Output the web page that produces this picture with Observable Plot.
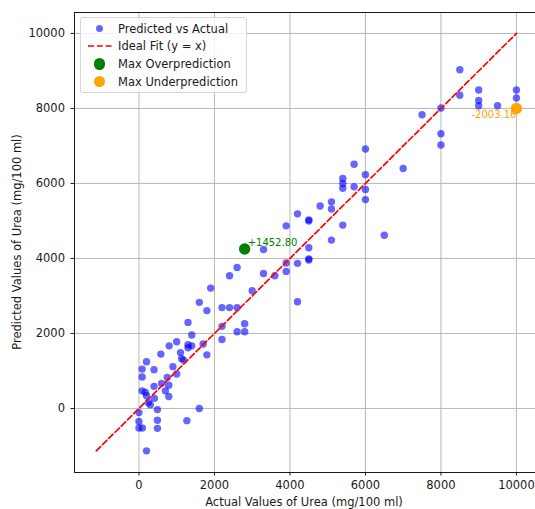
<!DOCTYPE html>
<html>
<head>
<meta charset="utf-8">
<script src="https://cdn.jsdelivr.net/npm/d3@7"></script>
<script src="https://cdn.jsdelivr.net/npm/@observablehq/plot@0.6"></script>
<style>
  html, body { margin: 0; padding: 0; background: #fff; overflow: hidden; }
  #wrap { position: relative; width: 535px; height: 509px; font-family: "DejaVu Sans", sans-serif; color: #1a1a1a; }
  #wrap svg text { font-family: "DejaVu Sans", sans-serif; }
  .legend { position: absolute; left: 80px; top: 17px; width: 167px; height: 76px;
    background: rgba(255,255,255,0.8); border: 1px solid #d6d6d6; border-radius: 3px; box-sizing: border-box;
    font-size: 11.5px; color: #1a1a1a; }
  .row { position: absolute; left: 0; height: 16px; display: flex; align-items: center; white-space: nowrap; }
  .mk { width: 37px; display: flex; justify-content: center; align-items: center; }
  .dot { border-radius: 50%; }
  .xlab { position: absolute; left: 74px; width: 460px; top: 495px; line-height: 15px; text-align: center; font-size: 11.5px; }
  .ylab { position: absolute; left: 17px; top: 242px; width: 300px; line-height: 15px; text-align: center; font-size: 11.5px;
    transform: translate(-50%, -50%) rotate(-90deg); }
</style>
</head>
<body>
<div id="wrap"></div>
<script>
// Actual urea values (mg/100 ml)
const actual = [
  8500, 8500, 9000, 9000, 9000, 9500, 10000, 10000, 8000, 8000, 8000, 7500, 7000,
  6000, 5700, 6000, 5400, 5400, 5400, 5700, 6000, 6000, 5100, 5100, 4800, 4500, 4500,
  5400, 6500, 5100, 4200, 3900, 3300, 4500, 4500, 4500, 3900, 4200, 3900, 2600, 2400,
  3300, 3600, 1900, 3000, 4200, 2200, 2400, 2600, 1600, 1800, 1300, 2200, 2800, 2600,
  2800, 2200, 1400,
  1000, 800, 1300, 1400, 1700, 1300, 1100, 580, 1800, 1130, 1180, 200, 900, 85, 400,
  1000, 85, 750, 600, 790, 400, 85, 170, 700, 200, 790, 410, 250, 300, 490, 0, 1600,
  1270, 490, 0, 0, 90, 490, 200
];
// Predicted urea values (mg/100 ml)
const predicted = [
  9030, 8350, 8490, 8210, 8070, 8070, 8490, 8280, 8010, 7325, 7025, 7830, 6400,
  6920, 6510, 6230, 6130, 6000, 5870, 5910, 5840, 5570, 5510, 5320, 5400, 5030, 5000,
  4890, 4620, 4490, 5190, 4870, 4240, 4285, 3990, 3960, 3880, 3870, 3655, 3760, 3540,
  3600, 3540, 3210, 3140, 2845, 2690, 2690, 2690, 2830, 2610, 2295, 2190, 2260, 2045,
  2045, 1840, 1960,
  1780, 1670, 1700, 1670, 1720, 1620, 1490, 1450, 1430, 1330, 1290, 1245, 1115, 1050, 1035,
  920, 840, 830, 670, 620, 590, 470, 430, 470, 340, 320, 270, 160, 100, -30, -110, 0,
  -325, -315, -345, -520, -520, -530, -1130
];
// Highlighted extremes
const overActual = [2800];
const overPredicted = [4252.80];
const underActual = [10000];
const underPredicted = [7996.84];

const xTicks = [0, 2000, 4000, 6000, 8000, 10000];
const yTicks = [0, 2000, 4000, 6000, 8000, 10000];
const xDomain = [-1707, 10505];
const yDomain = [-1707, 10558];
const xLabel = "Actual Values of Urea (mg/100 ml)";
const yLabel = "Predicted Values of Urea (mg/100 ml)";

const pts = actual.map((a, i) => ({a, p: predicted[i]}));
const over = overActual.map((a, i) => ({a, p: overPredicted[i], t: "+" + (overPredicted[i] - a).toFixed(2)}));
const under = underActual.map((a, i) => ({a, p: underPredicted[i], t: (underPredicted[i] - a).toFixed(2)}));
const lo = Math.min(d3.min(actual), d3.min(predicted));
const hi = Math.max(d3.max(actual), d3.max(predicted));
const ideal = [{v: lo}, {v: hi}];
const fmt = d => String(d);

const chart = Plot.plot({
  width: 535, height: 509,
  marginLeft: 74, marginRight: 0, marginTop: 12, marginBottom: 37,
  style: {fontFamily: "'DejaVu Sans', sans-serif", fontSize: "11.5px", color: "#1a1a1a", background: "#fff"},
  x: {domain: xDomain},
  y: {domain: yDomain},
  marks: [
    Plot.gridX(xTicks, {stroke: "#b0b0b0", strokeOpacity: 1, strokeWidth: 0.9}),
    Plot.gridY(yTicks, {stroke: "#b0b0b0", strokeOpacity: 1, strokeWidth: 0.9}),
    Plot.axisX(xTicks, {tickFormat: fmt, tickSize: 3.5, tickPadding: 5, label: null, fontSize: 11.5}),
    Plot.axisY(yTicks, {tickFormat: fmt, tickSize: 3.5, tickPadding: 6, label: null, fontSize: 11.5}),
    Plot.ruleX([xDomain[0]], {stroke: "#1a1a1a", strokeWidth: 1}),
    Plot.ruleY([yDomain[0]], {stroke: "#1a1a1a", strokeWidth: 1}),
    Plot.ruleY([yDomain[1]], {stroke: "#1a1a1a", strokeWidth: 1}),
    Plot.dot(pts, {x: "a", y: "p", r: 3.7, fill: "#0000ff", fillOpacity: 0.6, stroke: "none"}),
    Plot.line(ideal, {x: "v", y: "v", stroke: "red", strokeWidth: 1.7, strokeDasharray: "6,2.8"}),
    Plot.dot(over, {x: "a", y: "p", r: 5.7, fill: "green", stroke: "none"}),
    Plot.dot(under, {x: "a", y: "p", r: 5.7, fill: "orange", stroke: "none"}),
    Plot.text(over, {x: "a", y: "p", text: "t", fill: "green", textAnchor: "start", dx: 3, dy: -6, fontSize: 10}),
    Plot.text(under, {x: "a", y: "p", text: "t", fill: "orange", textAnchor: "end", dx: 0, dy: 6, fontSize: 10})
  ]
});
const wrap = document.getElementById("wrap");
wrap.appendChild(chart);

const xl = document.createElement("div"); xl.className = "xlab"; xl.textContent = xLabel; wrap.appendChild(xl);
const yl = document.createElement("div"); yl.className = "ylab"; yl.textContent = yLabel; wrap.appendChild(yl);

const legendItems = [
  {label: "Predicted vs Actual", kind: "dot", color: "rgba(0,0,255,0.6)", size: 7.4},
  {label: "Ideal Fit (y = x)", kind: "line", color: "red"},
  {label: "Max Overprediction", kind: "dot", color: "green", size: 11.4},
  {label: "Max Underprediction", kind: "dot", color: "orange", size: 11.4}
];
const lg = document.createElement("div");
lg.className = "legend";
legendItems.forEach((it, i) => {
  const row = document.createElement("div");
  row.className = "row";
  row.style.top = (2.5 + i * 17.7) + "px";
  const mk = document.createElement("div");
  mk.className = "mk";
  if (it.kind === "dot") {
    const d = document.createElement("div");
    d.className = "dot";
    d.style.width = it.size + "px"; d.style.height = it.size + "px"; d.style.background = it.color;
    mk.appendChild(d);
  } else {
    const ns = "http://www.w3.org/2000/svg";
    const s = document.createElementNS(ns, "svg");
    s.setAttribute("width", "24"); s.setAttribute("height", "4");
    const ln = document.createElementNS(ns, "line");
    ln.setAttribute("x1", "0"); ln.setAttribute("x2", "24"); ln.setAttribute("y1", "2"); ln.setAttribute("y2", "2");
    ln.setAttribute("stroke", it.color); ln.setAttribute("stroke-width", "1.7"); ln.setAttribute("stroke-dasharray", "6,2.8");
    s.appendChild(ln);
    mk.appendChild(s);
  }
  const tx = document.createElement("span");
  tx.textContent = it.label;
  row.appendChild(mk); row.appendChild(tx);
  lg.appendChild(row);
});
wrap.appendChild(lg);
</script>
</body>
</html>
